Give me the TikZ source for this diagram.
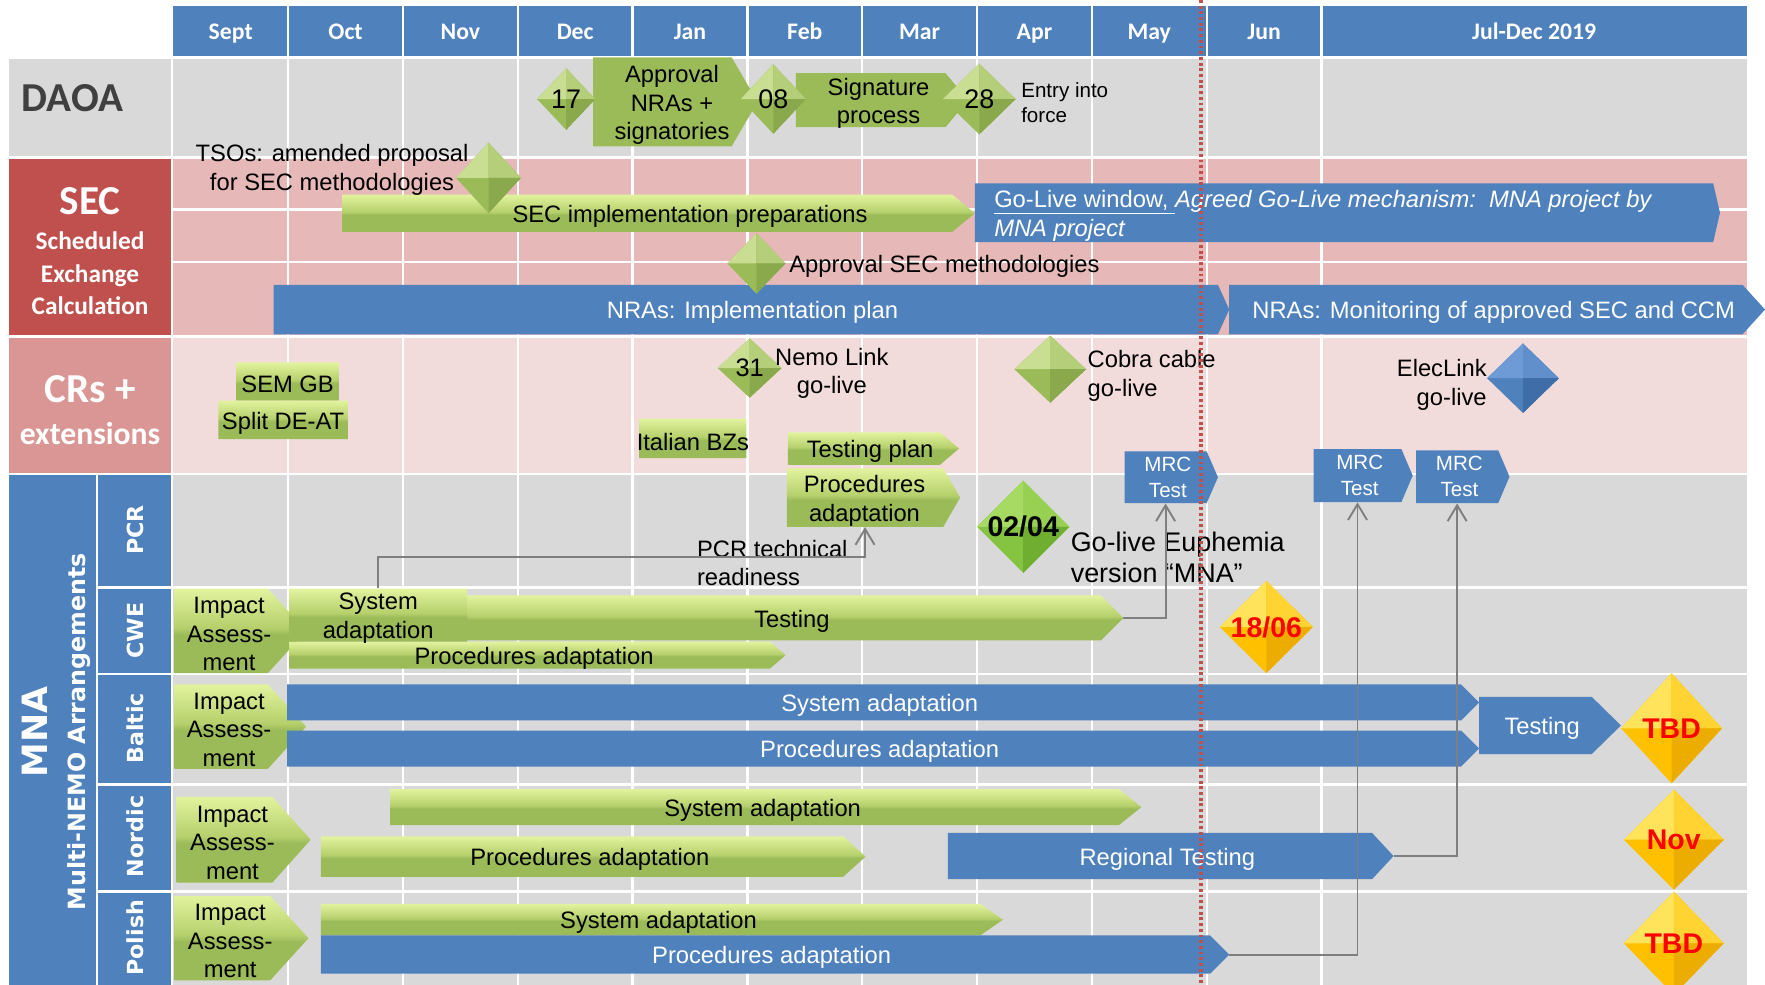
\documentclass[tikz,border=0pt]{standalone}
\usepackage{fontspec}
\setmainfont{Liberation Sans}
\newfontfamily\carlito{Carlito}
\newfontfamily\dejavu{DejaVu Sans}
\usetikzlibrary{shapes.geometric}
\usetikzlibrary{arrows.meta}

\definecolor{hdblue}{HTML}{4F81BD}
\definecolor{cellgray}{HTML}{D9D9D9}
\definecolor{secpink}{HTML}{E6B9B8}
\definecolor{crpink}{HTML}{F2DCDB}
\definecolor{secred}{HTML}{C0504D}
\definecolor{crred}{HTML}{D99694}
\definecolor{dkgray}{HTML}{404040}
\definecolor{lnk}{HTML}{7F7F7F}
\definecolor{gdk}{HTML}{9BBB59}
\definecolor{gmd}{HTML}{B6D06C}
\definecolor{glt}{HTML}{E2F39E}
\definecolor{gemlt}{HTML}{C9DE93}
\definecolor{gemdk}{HTML}{8AA94C}
\definecolor{limelt}{HTML}{A6DA63}
\definecolor{lime}{HTML}{84C440}
\definecolor{limedk}{HTML}{6FAE30}
\definecolor{ylt}{HTML}{FFE35A}
\definecolor{ylw}{HTML}{FFC000}
\definecolor{ydk}{HTML}{EDAD00}
\definecolor{bllt}{HTML}{6E9BD6}
\definecolor{bldk}{HTML}{3F6DA8}

\pgfdeclareverticalshading{gbev}{100bp}{color(0bp)=(gdk); color(25bp)=(gdk); color(48bp)=(gdk); color(52bp)=(gmd); color(75bp)=(glt); color(100bp)=(glt)}

\tikzset{>={Straight Barb[length=10pt,width=12pt]}}
\tikzset{sz/.style 2 args={minimum width=(#1)*0.025cm, minimum height=(#2)*0.025cm}}
\tikzset{tx/.style={font=\fontsize{15}{18}\selectfont, align=center, inner sep=0pt}}
\tikzset{txt/.style={tx, yshift=-0.07cm}}
\tikzset{wtxt/.style={txt, text=white}}
\tikzset{small/.style={font=\fontsize{13}{15.6}\selectfont}}
\tikzset{big/.style={font=\fontsize{17}{19.2}\selectfont}}
\tikzset{hd/.style={font=\carlito\bfseries\fontsize{15}{18}\selectfont, text=white, inner sep=0pt, anchor=base}}
\tikzset{lbl/.style={text=white, align=center, inner sep=0pt}}
\tikzset{rot/.style={lbl, rotate=90}}
\tikzset{gbar/.style={shade, shading=gbev}}
\tikzset{gbartxt/.style={txt}}
\tikzset{fbar/.style={fill=gdk}}
\tikzset{fbartxt/.style={txt}}
\tikzset{bbar/.style={fill=hdblue}}
\tikzset{bbartxt/.style={wtxt}}
\tikzset{mbar/.style={fill=hdblue}}
\tikzset{mbartxt/.style={tx, text=white, font=\fontsize{13}{16.4}\selectfont}}
\tikzset{gem/.style n args={3}{diamond, inner sep=0pt, fill=#2, path picture={
  \fill[#1] (path picture bounding box.north) -- (path picture bounding box.center) -- (path picture bounding box.west) -- cycle;
  \fill[#1!55!#2] (path picture bounding box.north) -- (path picture bounding box.center) -- (path picture bounding box.east) -- cycle;
  \fill[#3] (path picture bounding box.south) -- (path picture bounding box.center) -- (path picture bounding box.east) -- cycle;}}}
\tikzset{ggem/.style={gem={gemlt}{gdk}{gemdk}, tx, font=\fontsize{17}{20}\selectfont}}
\tikzset{lgem/.style={gem={limelt}{lime}{limedk}, tx, font=\bfseries\fontsize{18}{21}\selectfont}}
\tikzset{ygem/.style={gem={ylt}{ylw}{ydk}, tx, text=red, font=\bfseries\fontsize{18}{21}\selectfont}}
\tikzset{bgem/.style={gem={bllt}{hdblue}{bldk}}}
\tikzset{cell/.style={white, line width=1.5pt}}
\tikzset{link/.style={draw=lnk, line width=1.2pt}}
\tikzset{today/.style={draw=secred, line width=2.1pt, dash pattern=on 1.8pt off 1.8pt}}

% bar: style, name, left, body end, top, bottom, tip, text shift, text
\newcommand{\task}[9]{%
  \path[#1] (#3,#5) -- (#4,#5) -- ({#4+#7},{(#5+#6)/2}) -- (#4,#6) -- (#3,#6) -- cycle;
  \node[inner sep=0pt, sz={#4-#3}{#6-#5}, label={[#1txt, xshift={(#7/2-3+(#8))*0.025cm}]center:{#9}}] (#2) at ({(#3+#4)/2},{(#5+#6)/2}) {};
  \coordinate (#2-tip) at ({#4+#7},{(#5+#6)/2});
}

\begin{document}
\begin{tikzpicture}[x=0.025cm, y=-0.025cm]
\useasboundingbox (0,0) rectangle (1568,875);

%%% Grid:

\fill[hdblue] (154,5) rectangle (1552,50);
\fill[cellgray] (154,52) rectangle (1552,139);
\fill[secpink] (154,141) rectangle (1552,298);
\fill[crpink] (154,300) rectangle (1552,420);
\fill[cellgray] (154,422) rectangle (1552,875);
\foreach \y in {186,233,522,599,697,792}
  \draw[cell] (154,\y) -- (1552,\y);
\foreach \x in {256,358,...,1174}
  \draw[cell] (\x,5) -- (\x,875);

\foreach \m [count=\i] in {Sept,Oct,Nov,Dec,Jan,Feb,Mar,Apr,May,Jun}
  \node[hd] (hd\i) at ({102*\i+103},35) {\m};
\node[hd] (hd11) at (1363,35) {Jul-Dec 2019};

%%% Row labels:

\fill[cellgray] (8,52) rectangle (152,139);
\node[anchor=west, inner sep=0pt, text=dkgray, font=\carlito\bfseries\fontsize{26}{30}\selectfont] (daoa) at (19,87) {DAOA};

\fill[secred] (8,141) rectangle (152,298);
\node[lbl, font=\carlito\bfseries\fontsize{26}{30}\selectfont] (sec) at (80,179) {SEC};
\node[lbl, font=\carlito\bfseries\fontsize{16}{20.6}\selectfont] (secsub) at (80,243) {Scheduled\\Exchange\\Calculation};

\fill[crred] (8,300) rectangle (152,420);
\node[lbl, font=\carlito\bfseries\fontsize{26}{30}\selectfont] (crs) at (80,346) {CRs +};
\node[lbl, font=\carlito\bfseries\fontsize{20}{24}\selectfont] (crsub) at (80,385) {extensions};

\fill[hdblue] (8,422) rectangle (85,875);
\node[rot, font=\dejavu\bfseries\fontsize{22}{26}\selectfont] (mna) at (31,650) {MNA};
\node[rot, font=\dejavu\bfseries\fontsize{15}{18}\selectfont] (mnasub) at (70,650) {Multi-NEMO Arrangements};

\fill[hdblue] (87,422) rectangle (152,521);
\fill[hdblue] (87,523) rectangle (152,598);
\fill[hdblue] (87,600) rectangle (152,696);
\fill[hdblue] (87,698) rectangle (152,791);
\fill[hdblue] (87,793) rectangle (152,875);
\node[rot, font=\dejavu\bfseries\fontsize{14}{17}\selectfont] (pcr) at (120,471) {PCR};
\node[rot, font=\dejavu\bfseries\fontsize{14}{17}\selectfont] (cwe) at (120,560) {CWE};
\node[rot, font=\dejavu\bfseries\fontsize{14}{17}\selectfont] (baltic) at (120,647) {Baltic};
\node[rot, font=\dejavu\bfseries\fontsize{14}{17}\selectfont] (nordic) at (120,743) {Nordic};
\node[rot, font=\dejavu\bfseries\fontsize{14}{17}\selectfont] (polish) at (120,833) {Polish};

%%% DAOA:

\task{fbar}{nras}{527}{650}{51}{130}{23}{0}{Approval\\NRAs +\\signatories}
\task{fbar}{sign}{707}{840}{65}{113}{20}{0}{Signature\\process}
\node[ggem, sz={52}{55}] (d17) at (503,88) {17};
\node[ggem, sz={58}{62}] (d08) at (687,88) {08};
\node[ggem, sz={65}{63}] (d28) at (870,88) {28};
\node[tx, small, anchor=west, align=left] (entry) at (907,91) {Entry into\\force};

%%% SEC:

\task{gbar}{secprep}{304}{846}{173}{206}{20}{31}{SEC implementation preparations}
\task{bbar}{golive}{866}{1522}{163}{215}{6}{0}{}
\node[wtxt, anchor=west, align=left] (golivetxt) at (883,189) {\underline{Go-Live window,\ }\textit{Agreed Go-Live mechanism:\ \ MNA project by}\\\textit{MNA project}};
\node[txt] (tsos) at (295,148) {TSOs: amended proposal\\for SEC methodologies};
\node[ggem, sz={58}{63}] (dtsos) at (434,158) {};
\task{bbar}{nraimpl}{243}{1082}{253}{297}{10}{4}{NRAs: Implementation plan}
\task{bbar}{nramon}{1092}{1548}{253}{297}{20}{0}{NRAs: Monitoring of approved SEC and CCM}
\node[ggem, sz={52}{54}] (dappr) at (672,234) {};
\node[txt, anchor=west] (appr) at (701,234) {Approval SEC methodologies};

%%% CRs + extensions:

\task{gbar}{semgb}{210}{301}{322}{356}{0}{3}{SEM GB}
\task{gbar}{split}{194}{309}{356}{390}{0}{3}{Split DE-AT}
\task{gbar}{italian}{568}{663}{372}{407}{0}{3}{Italian BZs}
\task{gbar}{testplan}{700}{835}{384}{413}{17}{0}{Testing plan}
\node[ggem, font=\fontsize{16}{19}\selectfont, sz={57}{53}] (d31) at (666,327) {31};
\node[txt] (nemo) at (739,329) {Nemo Link\\go-live};
\node[ggem, sz={64}{60}] (dcobra) at (933,328) {};
\node[txt, anchor=west, align=left] (cobra) at (966,331) {Cobra cable\\go-live};
\node[bgem, sz={64}{62}] (delec) at (1353,336) {};
\node[txt, anchor=east, align=right] (elec) at (1321,339) {ElecLink\\go-live};
\task{mbar}{mrc1}{999}{1072}{401}{447}{10}{0}{MRC\\Test}
\task{mbar}{mrc2}{1167}{1245}{399}{446}{10}{0}{MRC\\Test}
\task{mbar}{mrc3}{1258}{1331}{400}{447}{10}{0}{MRC\\Test}

%%% PCR:

\task{gbar}{pcrproc}{699}{838}{416}{468}{15}{-5}{Procedures\\adaptation}
\node[lgem, sz={82}{82}] (d0204) at (909,468) {02/04};
\node[tx, big, anchor=west, align=left] (euph) at (951,495) {Go-live Euphemia\\version “MNA”};
\node[tx, anchor=west, align=left] (pcrtech) at (619,500) {PCR technical\\readiness};

%%% CWE:

\task{gbar}{cweimp}{155}{238}{523}{598}{34}{-7}{Impact\\Assess-\\ment}
\task{gbar}{cweproc}{257}{684}{570}{594}{14}{0}{Procedures adaptation}
\task{gbar}{cwetest}{415}{978}{529}{569}{20}{0}{Testing}
\task{gbar}{cwesys}{257}{415}{523}{570}{0}{3}{System\\adaptation}
\node[ygem, sz={83}{79}] (d1806) at (1125,557) {18/06};

%%% Baltic:

\task{gbar}{balimp}{155}{238}{608}{683}{34}{-7}{Impact\\Assess-\\ment}
\task{bbar}{balsys}{255}{1298}{608}{640}{16}{0}{System adaptation}
\task{bbar}{balproc}{255}{1298}{649}{681}{16}{0}{Procedures adaptation}
\task{bbar}{baltest}{1314}{1414}{619}{670}{26}{-4}{Testing}
\node[ygem, sz={90}{98}] (tbd1) at (1485,647) {TBD};

%%% Nordic:

\task{gbar}{norimp}{157}{242}{708}{784}{34}{-7}{Impact\\Assess-\\ment}
\task{gbar}{norsys}{347}{994}{701}{733}{20}{0}{System adaptation}
\task{gbar}{norproc}{285}{749}{743}{779}{20}{0}{Procedures adaptation}
\task{bbar}{norreg}{842}{1219}{740}{781}{19}{0}{Regional Testing}
\node[ygem, sz={89}{89}] (nov) at (1487,746) {Nov};

%%% Polish:

\task{gbar}{polimp}{155}{240}{796}{871}{34}{-7}{Impact\\Assess-\\ment}
\task{gbar}{polsys}{285}{871}{803}{831}{20}{0}{System adaptation}
\task{bbar}{polproc}{285}{1075}{831}{865}{17}{0}{Procedures adaptation}
\node[ygem, sz={89}{92}] (tbd2) at (1487,838) {TBD};

%%% Links:

\draw[link,->] (cwesys.north) -- ++(0,-28) -| (pcrproc.south);
\draw[link,->] (cwetest-tip) -| (mrc1.south);
\draw[link,->] (polproc-tip) -| (mrc2.south);
\draw[link,->] (norreg-tip) -| (mrc3.south);

\coordinate (now1) at (1067,0);
\coordinate (now2) at (1067,875);
\draw[today] (now1) -- (now2);
\end{tikzpicture}
\end{document}
